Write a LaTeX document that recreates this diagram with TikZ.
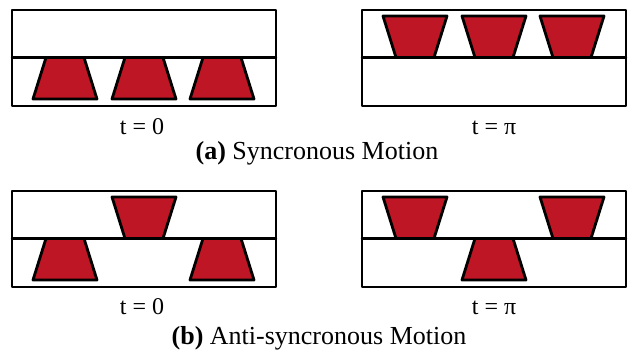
\documentclass[tikz,border=0pt]{standalone}
\usepackage{fontspec}
\setmainfont{Liberation Serif}
\definecolor{blockred}{RGB}{190,22,36}
\begin{document}
\begin{tikzpicture}[line join=round,line cap=round,x=1pt,y=-1pt]
    \tikzset{frame/.style={draw,line width=2.4pt},
             block/.style={draw,line width=2.8pt,fill=blockred},
             tlabel/.style={anchor=base,font=\fontsize{24}{28}\selectfont},
             caption/.style={anchor=base,font=\fontsize{26}{30}\selectfont}}
    \useasboundingbox (0,0) rectangle (630,358);
    \def\w{264}
    \def\h{96}
    \def\m{47.5}
    \def\n{19}
    \def\s{32}
    % blocks sit with their narrow side on the mid line
    \def\low#1#2#3{\draw[block] (#1+#2-\n,#3+\m) -- (#1+#2+\n,#3+\m) -- (#1+#2+\s,#3+89) -- (#1+#2-\s,#3+89) -- cycle;}
    \def\up#1#2#3{\draw[block] (#1+#2-\n,#3+\m) -- (#1+#2+\n,#3+\m) -- (#1+#2+\s,#3+6) -- (#1+#2-\s,#3+6) -- cycle;}
    \foreach \x in {12,362}
      \foreach \y in {10,191}{
        \draw[frame] (\x,\y) rectangle ++(\w,\h);
        \draw[frame] (\x,\y+\m) -- ++(\w,0);
      }
    % (a)
    \foreach \c in {53,132,210}{
      \low{12}{\c}{10}
      \up{362}{\c}{10}
    }
    % (b)
    \low{12}{53}{191}
    \up{12}{132}{191}
    \low{12}{210}{191}
    \up{362}{53}{191}
    \low{362}{132}{191}
    \up{362}{210}{191}
    \node[tlabel] (a0) at (142,135) {t = 0};
    \node[tlabel] (api) at (494,135) {t = π};
    \node[caption] (capa) at (317,160) {\textbf{(a)} Syncronous Motion};
    \node[tlabel] (b0) at (142,315) {t = 0};
    \node[tlabel] (bpi) at (494,315) {t = π};
    \node[caption] (capb) at (319,345) {\textbf{(b)} Anti-syncronous Motion};
\end{tikzpicture}
\end{document}
